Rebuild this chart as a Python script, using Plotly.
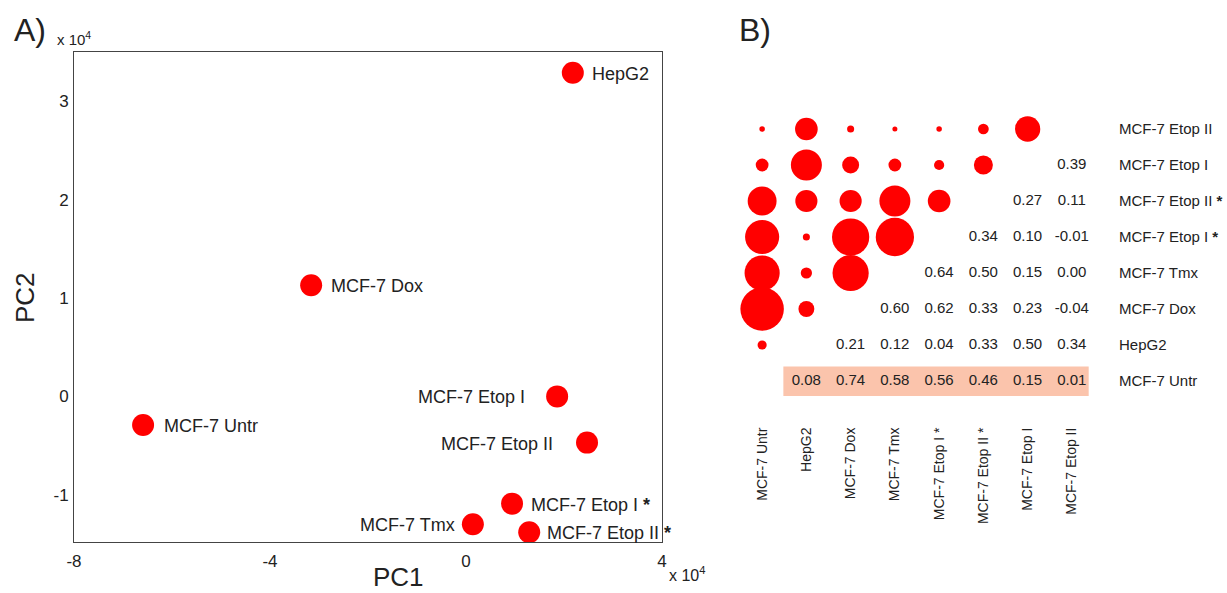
import plotly.graph_objects as go

# ---------------- Panel A data (PCA scores, x1e4) ----------------
pca_names = ["HepG2", "MCF-7 Dox", "MCF-7 Untr", "MCF-7 Etop I", "MCF-7 Etop II",
             "MCF-7 Etop I <b>*</b>", "MCF-7 Tmx", "MCF-7 Etop II <b>*</b>"]
pc1 = [2.18, -3.16, -6.59, 1.86, 2.47, 0.94, 0.14, 1.29]
pc2 = [3.29, 1.13, -0.29, 0.00, -0.47, -1.09, -1.30, -1.38]
label_side = ["right", "right", "right", "left", "left", "right", "left", "right"]
label_gap = [17, 18, 19, 30, 32, 17, 16, 16]
x_ticks = [-8, -4, 0, 4]
y_ticks = [-1, 0, 1, 2, 3]

# ---------------- Panel B data (correlation matrix) ----------------
samples = ["MCF-7 Untr", "HepG2", "MCF-7 Dox", "MCF-7 Tmx", "MCF-7 Etop I *",
           "MCF-7 Etop II *", "MCF-7 Etop I", "MCF-7 Etop II"]
row_labels = ["MCF-7 Untr", "HepG2", "MCF-7 Dox", "MCF-7 Tmx", "MCF-7 Etop I <b>*</b>",
              "MCF-7 Etop II <b>*</b>", "MCF-7 Etop I", "MCF-7 Etop II"]
corr_upper = [
    [0.08, 0.74, 0.58, 0.56, 0.46, 0.15, 0.01],
    [0.21, 0.12, 0.04, 0.33, 0.50, 0.34],
    [0.60, 0.62, 0.33, 0.23, -0.04],
    [0.64, 0.50, 0.15, 0.00],
    [0.34, 0.10, -0.01],
    [0.27, 0.11],
    [0.39],
]

W, H = 1227, 593
fig = go.Figure()

# Panel A scatter
fig.add_trace(go.Scatter(
    x=pc1, y=pc2, mode="markers",
    marker=dict(color="#ff0000", size=22, opacity=1, line=dict(width=0)),
    xaxis="x", yaxis="y", showlegend=False, hoverinfo="skip"))

annotations = []
for nm, xv, yv, side, gap in zip(pca_names, pc1, pc2, label_side, label_gap):
    annotations.append(dict(
        x=xv, y=yv, xref="x", yref="y", text=nm, showarrow=False,
        xanchor="left" if side == "right" else "right",
        xshift=gap if side == "right" else -gap, yshift=-1,
        font=dict(size=18, color="#222")))

# Panel B
n = len(samples)
cx, cy, csz, ctx, cty, ctext = [], [], [], [], [], []
for i, row in enumerate(corr_upper):
    for k, v in enumerate(row):
        j = i + 1 + k
        ctx.append(j)
        cty.append(i)
        ctext.append(f"{v:.2f}")
        cx.append(i)
        cy.append(j)
        csz.append(5 + 52 * abs(v))

fig.add_trace(go.Scatter(
    x=cx, y=cy, mode="markers",
    marker=dict(color="#ff0000", size=csz, sizemode="diameter", opacity=1,
                line=dict(width=0)),
    xaxis="x2", yaxis="y2", showlegend=False, hoverinfo="skip"))
fig.add_trace(go.Scatter(
    x=ctx, y=cty, mode="text", text=ctext,
    textfont=dict(size=15, color="#222"),
    xaxis="x2", yaxis="y2", showlegend=False, hoverinfo="skip"))

shapes = [dict(type="rect", xref="x2", yref="y2", x0=0.48, x1=7.38, y0=-0.42, y1=0.4,
               fillcolor="#fbc4ac", line=dict(width=0), layer="below")]

annotations += [
    dict(x=12 / W, y=1 - 30 / H, xref="paper", yref="paper", text="A)", showarrow=False,
         xanchor="left", yanchor="middle", font=dict(size=32, color="#222")),
    dict(x=737 / W, y=1 - 30 / H, xref="paper", yref="paper", text="B)", showarrow=False,
         xanchor="left", yanchor="middle", font=dict(size=32, color="#222")),
    dict(x=55 / W, y=1 - 39 / H, xref="paper", yref="paper", text="x 10<sup>4</sup>",
         showarrow=False, xanchor="left", yanchor="middle", font=dict(size=15, color="#222")),
    dict(x=667 / W, y=1 - 574 / H, xref="paper", yref="paper", text="x 10<sup>4</sup>",
         showarrow=False, xanchor="left", yanchor="middle", font=dict(size=16, color="#222")),
    dict(x=398 / W, y=1 - 577 / H, xref="paper", yref="paper", text="PC1",
         showarrow=False, xanchor="center", yanchor="middle", font=dict(size=26, color="#222")),
    dict(x=25 / W, y=1 - 298 / H, xref="paper", yref="paper", text="PC2", textangle=-90,
         showarrow=False, xanchor="center", yanchor="middle", font=dict(size=26, color="#222")),
]

fig.update_layout(
    width=W, height=H, margin=dict(l=0, r=0, t=0, b=0, autoexpand=False),
    paper_bgcolor="white", plot_bgcolor="white",
    font=dict(family="Liberation Sans, Arial, sans-serif", color="#222"),
    xaxis=dict(domain=[74 / W, 662 / W], range=[-8, 4], tickvals=x_ticks,
               ticktext=[str(t) for t in x_ticks], showgrid=False, zeroline=False,
               showline=True, linecolor="#444", linewidth=1, mirror=True, ticks="outside",
               ticklen=4, tickcolor="rgba(0,0,0,0)", automargin=False,
               tickfont=dict(size=17), anchor="y"),
    yaxis=dict(domain=[1 - 542 / H, 1 - 52 / H], range=[-1.48, 3.5], tickvals=y_ticks,
               ticktext=[str(t) for t in y_ticks], showgrid=False, zeroline=False,
               showline=True, linecolor="#444", linewidth=1, mirror=True, ticks="outside",
               ticklen=1, tickcolor="rgba(0,0,0,0)", automargin=False,
               tickfont=dict(size=17), anchor="x"),
    xaxis2=dict(domain=[740 / W, 1094 / W], range=[-0.5, 7.5], tickvals=list(range(n)),
                ticktext=samples, tickangle=-90, showgrid=False, zeroline=False,
                showline=False, ticks="outside", ticklen=22, tickcolor="rgba(0,0,0,0)",
                tickfont=dict(size=14), anchor="y2", side="bottom", automargin=False),
    yaxis2=dict(domain=[1 - 399 / H, 1 - 111 / H], range=[-0.5, 7.5], tickvals=list(range(n)),
                ticktext=row_labels, showgrid=False, zeroline=False, showline=False,
                ticks="outside", ticklen=21, tickcolor="rgba(0,0,0,0)",
                tickfont=dict(size=15), anchor="x2", side="right", automargin=False),
    annotations=annotations, shapes=shapes,
)

fig.write_html("out.html", config={"displayModeBar": False},
               post_script="document.body.style.margin='0';document.body.style.padding='0';")
